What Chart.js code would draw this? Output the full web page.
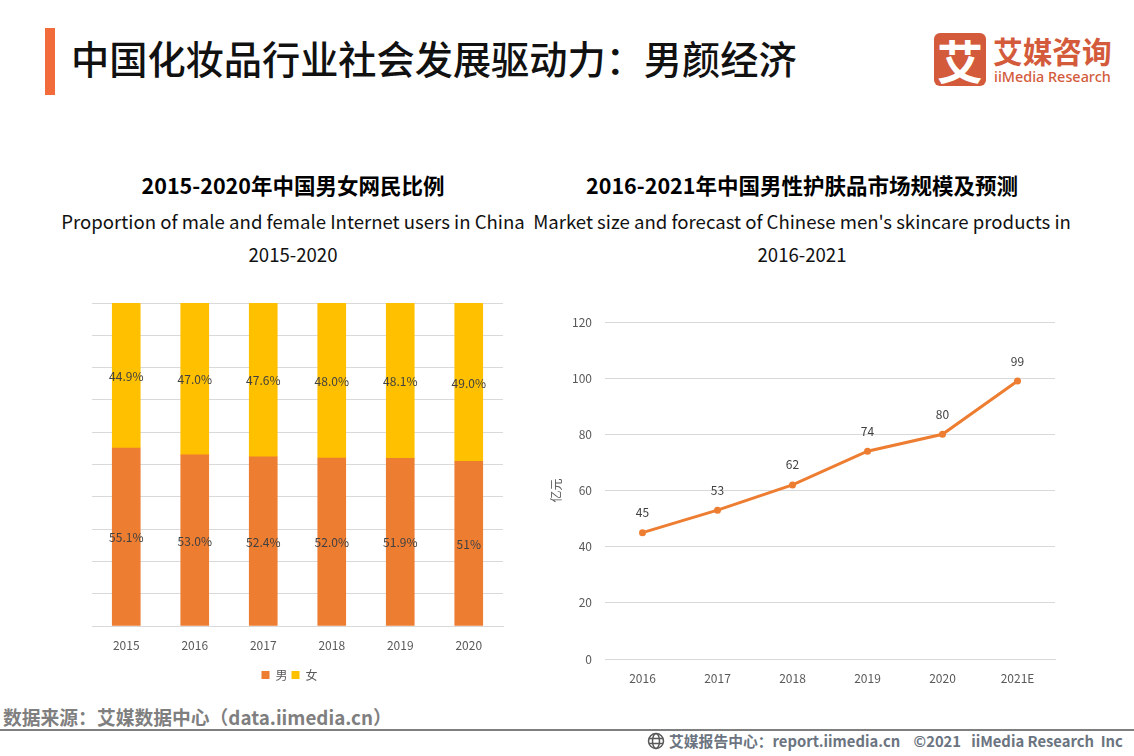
<!DOCTYPE html>
<html>
<head>
<meta charset="utf-8">
<script src="https://cdn.jsdelivr.net/npm/chart.js@4"></script>
<style>
  html, body { margin: 0; padding: 0; background: #fff; }
  body { width: 1134px; height: 756px; position: relative; overflow: hidden; font-family: "Noto Sans CJK SC", "Noto Sans", sans-serif; color: #000; }
  .abs { position: absolute; white-space: nowrap; }
  .center { transform: translateX(-50%); }
  .sub { font-size: 18.6px; line-height: 33px; color: #111; }
  .subBold { font-size: 21.5px; line-height: 33px; font-weight: 700; color: #000; }
  canvas { position: absolute; }
</style>
</head>
<body>
<div class="abs" style="left:45px;top:28px;width:10px;height:67px;background:#f26b3a"></div>
<div class="abs" id="title" style="left:71px;top:31px;font-size:38.2px;line-height:54px;font-weight:500;color:#111">中国化妆品行业社会发展驱动力&#xFF1A;男颜经济</div>

<div class="abs" style="left:934px;top:33px;width:52px;height:53px;border-radius:6px;background:#d35b3b;color:#fff;font-size:46px;line-height:52px;font-weight:700;text-align:center">艾</div>
<div class="abs" style="left:993px;top:33px;font-size:29.7px;line-height:36px;font-weight:700;color:#d35b3b">艾媒咨询</div>
<div class="abs" style="left:994px;top:66px;font-size:14.4px;line-height:21px;font-weight:500;color:#d35b3b;font-family:'Noto Sans',sans-serif">iiMedia Research</div>

<div class="abs center subBold" style="left:293px;top:168px">2015-2020年中国男女网民比例</div>
<div class="abs center sub" style="left:293px;top:204px">Proportion of male and female Internet users in China</div>
<div class="abs center sub" style="left:293px;top:237px">2015-2020</div>
<div class="abs center subBold" style="left:802px;top:168px">2016-2021年中国男性护肤品市场规模及预测</div>
<div class="abs center sub" style="left:802px;top:204px">Market size and forecast of Chinese men's skincare products in</div>
<div class="abs center sub" style="left:802px;top:237px">2016-2021</div>

<canvas id="shareChart" width="560" height="410" style="left:0;top:290px"></canvas>
<canvas id="marketChart" width="560" height="410" style="left:541px;top:300px"></canvas>

<div class="abs" style="left:3px;top:704px;font-size:18.8px;line-height:26px;font-weight:700;color:#7f7f7f">数据来源&#xFF1A;艾媒数据中心&#xFF08;data.iimedia.cn&#xFF09;</div>
<div class="abs" style="left:0;top:729px;width:1134px;height:2px;background:#7f7f7f"></div>
<svg class="abs" style="left:647px;top:732px" width="19" height="19" viewBox="0 0 19 19" fill="none" stroke="#595959" stroke-width="1.5">
  <circle cx="9" cy="9" r="7.5"></circle>
  <ellipse cx="9" cy="9" rx="3.5" ry="7.5"></ellipse>
  <path d="M2 6.5h14M2 11.5h14"></path>
</svg>
<div class="abs" style="left:669px;top:731px;font-size:14.8px;line-height:20px;font-weight:700;color:#6b7480">艾媒报告中心&#xFF1A;report.iimedia.cn&nbsp;&nbsp;&nbsp;&nbsp;©2021&nbsp;&nbsp;&nbsp;iiMedia Research&nbsp;&nbsp;Inc</div>

<script>
const shareYears = ["2015", "2016", "2017", "2018", "2019", "2020"];
const maleShare = [55.1, 53.0, 52.4, 52.0, 51.9, 51.0];
const femaleShare = [44.9, 47.0, 47.6, 48.0, 48.1, 49.0];
const maleLabels = ["55.1%", "53.0%", "52.4%", "52.0%", "51.9%", "51%"];
const femaleLabels = ["44.9%", "47.0%", "47.6%", "48.0%", "48.1%", "49.0%"];

const marketYears = ["2016", "2017", "2018", "2019", "2020", "2021E"];
const marketSize = [45, 53, 62, 74, 80, 99];

const cjk = "'Noto Sans CJK SC', 'Noto Sans', sans-serif";
const gridColor = "#d9d9d9";
const tickColor = "#595959";

// draws the text labels sitting on the bars and points
const valueLabels = {
  id: "valueLabels",
  afterDatasetsDraw(chart) {
    const ctx = chart.ctx;
    ctx.save();
    ctx.font = "12px " + cjk;
    ctx.fillStyle = "#404040";
    ctx.textAlign = "center";
    ctx.textBaseline = "middle";
    chart.data.datasets.forEach((ds, i) => {
      chart.getDatasetMeta(i).data.forEach((el, j) => {
        if (chart.config.type === "bar") {
          ctx.fillText(ds.valueText[j], el.x, (el.y + el.base) / 2 + 1);
        } else {
          ctx.fillText(ds.data[j], el.x, el.y - 20);
        }
      });
    });
    ctx.restore();
  }
};

// legend sits a little left of the plot centre in the original
const legendShift = {
  id: "legendShift",
  afterLayout(chart) {
    chart.legend.left -= 8;
    chart.legend.right -= 8;
  }
};

new Chart(document.getElementById("shareChart"), {
  type: "bar",
  plugins: [valueLabels, legendShift],
  data: {
    labels: shareYears,
    datasets: [
      { label: "男", data: maleShare, valueText: maleLabels, backgroundColor: "#ed7d31", barThickness: 28 },
      { label: "女", data: femaleShare, valueText: femaleLabels, backgroundColor: "#ffc000", barThickness: 28 }
    ]
  },
  options: {
    responsive: false,
    animation: false,
    layout: { padding: { left: 92, right: 57, top: 13, bottom: 9 } },
    plugins: {
      tooltip: { enabled: false },
      legend: {
        position: "bottom",
        labels: { boxWidth: 8, boxHeight: 8, padding: 4, color: tickColor, font: { size: 12, family: cjk } }
      }
    },
    scales: {
      x: {
        stacked: true,
        afterFit(scale) { scale.height = 39; },
        grid: { display: false },
        border: { color: gridColor },
        ticks: { color: tickColor, padding: 4, maxRotation: 0, font: { size: 12, family: cjk } }
      },
      y: {
        stacked: true,
        min: 0,
        max: 100,
        afterFit(scale) { scale.width = 0; },
        grid: { color: gridColor, drawTicks: false },
        border: { display: false },
        ticks: { display: false, stepSize: 10 }
      }
    }
  }
});

new Chart(document.getElementById("marketChart"), {
  type: "line",
  data: {
    labels: marketYears,
    datasets: [{
      label: "市场规模",
      data: marketSize,
      borderColor: "#ed7d31",
      backgroundColor: "#ed7d31",
      borderWidth: 3,
      pointRadius: 3.5,
      pointBorderWidth: 0,
      tension: 0
    }]
  },
  plugins: [valueLabels],
  options: {
    responsive: false,
    animation: false,
    layout: { padding: { left: 0, right: 46, top: 22, bottom: 12 } },
    plugins: { legend: { display: false }, tooltip: { enabled: false } },
    scales: {
      x: {
        offset: true,
        afterFit(scale) { scale.height = 39; },
        grid: { display: false },
        border: { color: gridColor },
        ticks: { color: tickColor, padding: 4, maxRotation: 0, font: { size: 12, family: cjk } }
      },
      y: {
        min: 0,
        max: 120,
        afterFit(scale) { scale.width = 64; },
        grid: { color: gridColor, drawTicks: false },
        border: { display: false },
        title: { display: true, text: "亿元", color: tickColor, padding: { top: 8, bottom: 0 }, font: { size: 12, family: cjk } },
        ticks: { stepSize: 20, color: tickColor, padding: 13, font: { size: 12, family: cjk } }
      }
    }
  }
});
</script>
</body>
</html>
